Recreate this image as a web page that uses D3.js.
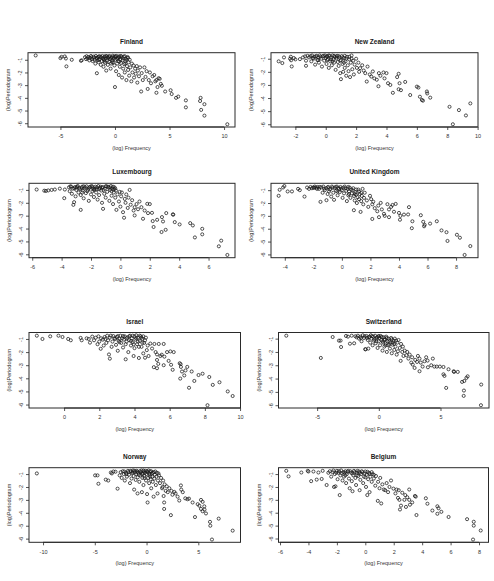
<!DOCTYPE html>
<html><head><meta charset="utf-8">
<script src="https://cdn.jsdelivr.net/npm/d3@7"></script>
<style>body{margin:0;background:#fff}svg{display:block}</style>
</head><body>
<svg id="c" width="494" height="581"></svg>
<script>
const countries = ["Finland","New Zealand","Luxembourg","United Kingdom","Israel","Switzerland","Norway","Belgium"];
const xLabel = "(log) Frequency";
const yLabel = "(log)Periodogram";

const finland = [[-7.27,-0.66],[-5.0,-0.87],[-4.9,-0.77],[-4.6,-0.74],[-4.5,-0.9],[-4.45,-1.52],[-3.96,-1.0],[-3.12,-1.08],[-3.05,-1.04],
[-2.75,-0.8],[-2.6,-0.72],[-2.5,-0.9],[-2.45,-0.78],[-2.3,-0.85],[-2.2,-0.7],[-2.1,-0.95],[-2.05,-1.1],[-1.95,-0.75],[-1.9,-0.82],[-1.8,-1.3],[-1.75,-0.7],[-1.7,-0.9],[-1.66,-2.06],[-1.6,-1.05],[-1.55,-0.78],[-1.5,-1.2],[-1.45,-0.72],[-1.4,-0.95],[-1.3,-1.4],[-1.25,-0.8],[-1.2,-1.1],[-1.15,-0.7],[-1.1,-0.88],[-1.05,-1.55],[-1.0,-1.0],[-0.95,-0.76],[-0.9,-1.25],[-0.85,-0.9],[-0.8,-1.85],[-0.75,-0.72],[-0.7,-1.05],[-0.65,-1.4],[-0.6,-0.85],[-0.55,-1.15],[-0.5,-0.7],[-0.45,-0.95],[-0.4,-1.7],[-0.35,-1.3],[-0.3,-0.8],[-0.25,-1.05],[-0.2,-0.68],[-0.15,-1.2],[-0.1,-0.9],[-0.05,-1.45],[0.0,-0.75],[0.0,-3.15],[0.05,-1.0],[0.1,-1.9],[0.15,-0.7],[0.2,-1.3],[0.25,-0.85],[0.3,-1.1],[0.35,-2.2],[0.4,-0.72],[0.45,-1.55],[0.5,-0.95],[0.55,-1.25],[0.6,-0.8],[0.65,-2.4],[0.7,-1.05],[0.75,-1.7],[0.8,-0.75],[0.85,-1.35],[0.9,-2.0],[0.95,-1.1],[1.0,-0.9],[1.05,-2.6],[1.1,-1.5],[1.15,-0.78],[1.2,-1.8],[1.25,-1.2],[1.3,-2.25],[1.35,-1.0],[1.4,-1.6],[1.5,-2.7],[1.55,-1.3],[1.6,-2.0],[1.7,-1.45],[1.75,-2.4],[1.85,-1.7],[1.9,-2.1],[2.0,-1.5],[2.05,-2.8],[2.1,-1.85],[2.2,-2.3],[2.3,-1.6],[2.4,-3.5],[2.45,-2.05],[2.55,-2.6],
[-2.65,-0.95],[-2.35,-1.05],[-2.15,-0.8],[-1.85,-1.0],[-1.65,-0.85],[-1.35,-0.75],[-1.05,-0.95],[-0.85,-0.7],[-0.7,-0.82],[-0.55,-0.75],[-0.35,-0.9],[-0.15,-0.8],[0.05,-0.72],[0.2,-0.95],[0.35,-0.8],[0.55,-0.7],[0.7,-0.88],[0.9,-0.72],[1.05,-1.0],[1.2,-0.85],[-1.5,-1.0],[-0.95,-1.15],[-0.25,-1.2],[0.4,-1.15],[0.95,-1.3],
[2.7,-1.6],[2.8,-2.35],[2.9,-1.9],[3.0,-3.3],[3.1,-2.6],[3.2,-2.0],[3.3,-2.85],[3.45,-2.3],[3.6,-2.2],[3.7,-2.7],[3.8,-2.6],[3.8,-3.6],[3.9,-3.15],[4.0,-2.45],[4.1,-2.5],[4.2,-2.9],[4.3,-3.05],[4.6,-3.5],[5.1,-3.4],[5.2,-3.7],[5.6,-4.0],[5.8,-3.9],[6.5,-4.2],[6.5,-4.75],[7.8,-4.25],[7.85,-4.0],[7.9,-4.95],[8.2,-4.5],[8.2,-5.4],[10.3,-6.08]];

const newZealand = [[-3.1,-1.2],[-2.86,-1.33],[-2.75,-0.9],[-2.35,-1.0],[-2.3,-0.85],[-2.28,-1.12],[-2.24,-1.59],[-2.1,-0.95],[-2.0,-1.05],[-1.7,-1.03],[-1.5,-0.9],[-1.36,-0.82],[-1.3,-1.15],[-1.3,-1.54],[-1.2,-0.78],
[-1.1,-0.9],[-1.0,-0.8],[-0.95,-1.2],[-0.9,-0.75],[-0.8,-1.0],[-0.75,-0.85],[-0.7,-1.45],[-0.6,-0.78],[-0.55,-1.1],[-0.5,-0.9],[-0.45,-1.3],[-0.4,-0.75],[-0.3,-1.0],[-0.25,-1.6],[-0.2,-0.82],[-0.1,-1.15],[-0.05,-0.75],[0.0,-0.95],[0.05,-1.4],[0.1,-0.8],[0.15,-1.05],[0.2,-1.7],[0.25,-0.78],[0.3,-1.2],[0.35,-0.9],[0.4,-1.5],[0.45,-0.75],[0.5,-1.05],[0.55,-1.3],[0.6,-0.85],[0.65,-1.85],[0.7,-1.0],[0.75,-0.78],[0.8,-1.25],[0.85,-1.55],[0.9,-0.9],[0.95,-2.1],[1.0,-1.1],[1.0,-2.56],[1.05,-0.8],[1.1,-1.4],[1.15,-2.0],[1.2,-0.95],[1.25,-1.7],[1.3,-1.2],[1.35,-2.3],[1.4,-0.85],[1.45,-1.5],[1.5,-1.95],[1.55,-1.05],[1.6,-2.4],[1.65,-1.3],[1.7,-0.75],[1.75,-1.8],[1.8,-1.15],[1.85,-2.2],[1.9,-1.45],[2.0,-1.0],[2.05,-1.7],[2.15,-1.3],[2.2,-2.0],
[-0.85,-0.95],[-0.65,-0.82],[-0.35,-0.85],[-0.15,-0.78],[0.05,-0.85],[0.2,-0.75],[0.35,-1.05],[0.55,-0.78],[0.7,-0.9],[0.85,-0.8],[1.1,-0.9],[1.25,-0.78],[1.35,-1.0],[1.55,-0.85],[1.7,-1.0],[0.45,-1.2],[0.95,-1.15],[1.2,-1.3],[-0.5,-1.1],[0.1,-1.1],
[2.26,-1.72],[2.4,-1.5],[2.5,-1.9],[2.6,-2.1],[2.7,-2.74],[2.75,-1.6],[2.9,-2.2],[3.0,-2.36],[3.1,-1.97],[3.2,-2.5],[3.36,-2.6],[3.47,-3.1],[3.5,-2.1],[3.6,-2.3],[3.8,-2.05],[3.87,-2.5],[4.0,-2.1],[4.1,-2.87],[4.25,-3.0],[4.42,-3.6],[4.7,-2.4],[4.8,-2.15],[4.8,-3.33],[4.86,-2.87],[4.95,-3.4],[5.23,-2.77],[5.56,-3.77],[6.0,-3.13],[6.1,-3.2],[6.2,-3.9],[6.33,-4.15],[6.4,-4.2],[6.66,-3.5],[6.68,-3.65],[6.88,-3.97],[8.15,-4.67],[8.37,-6.0],[8.77,-4.92],[9.23,-5.33],[9.52,-4.41]];

const luxembourg = [[-5.7,-0.97],[-5.18,-1.06],[-5.07,-1.08],[-4.91,-1.04],[-4.68,-1.0],[-4.46,-0.97],[-4.12,-0.9],[-3.82,-1.64],[-3.78,-0.97],
[-3.5,-0.8],[-3.45,-1.1],[-3.4,-0.72],[-3.3,-1.3],[-3.25,-0.9],[-3.2,-2.16],[-3.15,-1.95],[-3.1,-0.78],[-3.05,-1.5],[-3.0,-1.0],[-2.9,-0.7],[-2.85,-1.2],[-2.8,-0.85],[-2.7,-2.55],[-2.7,-1.4],[-2.6,-0.75],[-2.55,-1.05],[-2.5,-1.65],[-2.45,-0.9],[-2.35,-1.25],[-2.3,-0.72],[-2.2,-1.0],[-2.15,-1.85],[-2.1,-0.8],[-2.0,-1.35],[-1.95,-0.7],[-1.9,-1.1],[-1.85,-0.9],[-1.8,-1.55],[-1.7,-0.75],[-1.65,-1.2],[-1.6,-0.95],[-1.55,-1.75],[-1.5,-0.7],[-1.45,-1.4],[-1.4,-0.85],[-1.3,-1.05],[-1.25,-2.0],[-1.2,-0.78],[-1.18,-2.47],[-1.1,-1.3],[-1.05,-0.9],[-1.0,-1.6],[-0.95,-0.72],[-0.9,-1.15],[-0.8,-0.82],[-0.75,-1.85],[-0.7,-1.0],[-0.65,-0.7],[-0.6,-1.45],[-0.55,-0.9],[-0.5,-2.1],[-0.45,-1.2],[-0.4,-0.8],[-0.35,-1.6],[-0.3,-1.05],[-0.27,-2.55],[-0.2,-1.35],[-0.1,-1.9],[-0.05,-1.15],[0.0,-2.3],[0.05,-1.5],[0.1,-1.2],[0.18,-2.73],[0.25,-3.16],[0.3,-1.7],[0.35,-2.0],[0.4,-1.35],[0.5,-2.4],[0.55,-1.6],[0.63,-1.0],[0.7,-2.15],[0.8,-1.8],[0.9,-2.6],
[-3.35,-0.75],[-3.0,-0.82],[-2.75,-0.95],[-2.4,-0.8],[-2.25,-1.1],[-1.9,-0.78],[-1.75,-0.92],[-1.35,-0.75],[-1.15,-1.0],[-0.85,-0.75],[-0.6,-1.1],[-0.35,-0.9],
[-3.15,-0.88],[-2.95,-0.75],[-2.65,-0.85],[-2.5,-0.72],[-2.15,-0.88],[-2.05,-0.75],[-1.6,-0.8],[-1.45,-0.95],[-1.25,-0.82],[-1.0,-0.72],[-0.7,-0.82],[-0.5,-0.75],[-0.45,-0.95],[-1.8,-1.0],[-2.6,-1.2],
[0.97,-2.34],[0.97,-2.98],[1.1,-2.1],[1.2,-2.5],[1.3,-1.9],[1.43,-2.34],[1.54,-3.24],[1.65,-2.6],[1.83,-2.08],[1.88,-2.8],[2.0,-2.1],[2.15,-2.78],[2.2,-3.42],[2.26,-3.88],[2.5,-3.32],[2.83,-3.11],[2.8,-4.27],[2.9,-3.45],[3.12,-2.8],[3.08,-4.1],[3.57,-2.9],[3.6,-2.92],[3.7,-3.5],[4.03,-3.68],[4.75,-3.58],[4.93,-3.76],[5.07,-4.69],[5.57,-4.02],[5.57,-4.45],[6.7,-5.38],[6.86,-4.94],[7.28,-6.05]];

const unitedKingdom = [[-4.43,-1.44],[-4.36,-0.97],[-4.12,-0.79],[-4.03,-0.68],[-3.8,-1.1],[-3.5,-1.1],[-3.07,-0.9],[-2.95,-1.0],[-2.62,-1.5],[-2.44,-0.79],[-2.3,-0.9],
[-2.2,-0.75],[-2.1,-0.85],[-2.0,-0.78],[-1.9,-0.72],[-1.8,-0.8],[-1.7,-0.75],[-1.6,-0.9],[-1.5,-1.91],[-1.45,-0.78],[-1.35,-1.2],[-1.3,-0.72],[-1.2,-1.0],[-1.1,-0.85],[-1.08,-1.78],[-1.0,-1.3],[-0.95,-0.75],[-0.9,-1.1],[-0.8,-0.9],[-0.75,-1.5],[-0.7,-0.72],[-0.6,-1.2],[-0.55,-1.75],[-0.5,-0.85],[-0.4,-1.05],[-0.35,-0.72],[-0.3,-1.4],[-0.2,-0.9],[-0.15,-1.15],[-0.1,-0.75],[0.0,-1.0],[0.05,-1.6],[0.1,-0.8],[0.15,-1.25],[0.2,-0.72],[0.3,-1.05],[0.35,-1.85],[0.4,-0.9],[0.45,-1.4],[0.5,-1.1],[0.55,-0.8],[0.6,-1.6],[0.7,-1.25],[0.75,-1.0],[0.84,-2.56],[0.85,-1.45],[0.9,-1.8],[0.95,-1.15],[1.0,-1.35],[1.05,-2.0],[1.1,-1.55],[1.15,-0.95],[1.2,-1.7],[1.25,-1.3],[1.31,-2.69],[1.35,-1.85],[1.4,-1.45],[1.45,-0.9],[1.5,-2.1],[1.55,-1.6],[1.6,-1.2],
[-1.95,-0.82],[-1.75,-0.9],[-1.55,-0.75],[-1.25,-0.88],[-1.0,-0.78],[-0.85,-0.95],[-0.65,-0.8],[-0.45,-0.75],[-0.25,-0.82],[-0.05,-0.88],[0.25,-0.85],[0.45,-0.75],[0.65,-0.95],[0.8,-0.85],[1.0,-0.95],[1.2,-1.1],[1.35,-1.2],[0.9,-1.3],[0.5,-1.3],[-0.3,-1.1],
[1.75,-1.8],[1.85,-2.3],[1.97,-1.44],[2.05,-1.7],[2.13,-2.1],[2.13,-3.24],[2.2,-1.9],[2.3,-2.4],[2.48,-2.64],[2.55,-2.2],[2.6,-3.1],[2.72,-1.99],[2.8,-2.5],[2.95,-2.84],[3.0,-3.0],[3.19,-2.09],[3.3,-3.1],[3.3,-2.5],[3.45,-2.3],[3.55,-2.15],[3.65,-2.68],[3.77,-2.07],[4.0,-2.77],[4.07,-3.3],[4.1,-3.0],[4.35,-2.9],[4.64,-2.89],[4.7,-2.32],[4.9,-3.96],[4.94,-3.42],[5.53,-2.95],[5.7,-3.46],[5.76,-3.81],[5.8,-3.7],[6.18,-3.6],[6.65,-3.42],[6.98,-4.13],[7.33,-4.27],[7.4,-4.95],[8.06,-4.47],[8.27,-4.7],[8.6,-6.04],[9.0,-5.35]];

const israel = [[-1.55,-0.75],[-1.23,-1.0],[-0.79,-0.8],[-0.32,-0.75],[-0.09,-0.85],[0.23,-1.0],[0.38,-1.1],[0.94,-0.92],[1.0,-1.1],[1.28,-0.95],[1.4,-1.0],[1.47,-1.28],[1.6,-0.82],
[1.7,-1.1],[1.8,-0.9],[1.9,-1.4],[1.95,-0.8],[2.0,-1.2],[2.08,-1.75],[2.1,-0.95],[2.2,-1.05],[2.25,-1.5],[2.3,-0.85],[2.4,-1.3],[2.45,-0.75],[2.5,-1.1],[2.55,-2.18],[2.6,-2.5],[2.6,-0.9],[2.7,-1.6],[2.75,-1.2],[2.8,-0.78],[2.9,-1.0],[2.95,-1.45],[3.0,-0.85],[3.05,-1.9],[3.1,-1.15],[3.2,-0.75],[3.25,-1.3],[3.3,-0.95],[3.35,-1.65],[3.4,-1.05],[3.45,-0.8],[3.5,-2.55],[3.5,-1.4],[3.55,-1.2],[3.6,-0.88],[3.65,-2.0],[3.7,-1.1],[3.75,-0.75],[3.8,-1.5],[3.85,-0.95],[3.9,-1.25],[3.95,-2.3],[4.0,-0.8],[4.0,-1.7],[4.05,-1.05],[4.1,-0.72],[4.15,-1.4],[4.2,-0.9],[4.25,-2.45],[4.3,-1.15],[4.35,-0.8],[4.4,-1.6],[4.45,-1.0],[4.5,-2.1],[4.55,-1.3],[4.6,-2.43],[4.65,-0.9],[4.7,-1.85],[4.75,-1.5],[4.8,-2.3],
[2.65,-0.75],[2.85,-0.95],[3.05,-0.78],[3.15,-1.0],[3.35,-0.78],[3.55,-0.95],[3.7,-0.8],[3.8,-1.15],[3.9,-0.75],[4.1,-0.95],[4.2,-1.2],[4.3,-0.75],[4.4,-0.9],[4.5,-0.8],[4.6,-1.1],[3.95,-1.4],[4.25,-1.6],[3.15,-1.25],[2.35,-1.0],[4.45,-1.3],
[4.9,-1.35],[5.0,-1.73],[5.1,-3.15],[5.13,-1.38],[5.2,-2.0],[5.28,-2.18],[5.28,-2.6],[5.28,-3.23],[5.35,-2.9],[5.38,-1.38],[5.47,-2.3],[5.55,-2.2],[5.66,-1.38],[5.66,-3.0],[5.7,-2.35],[5.85,-2.0],[5.94,-2.67],[6.04,-1.95],[6.08,-2.97],[6.17,-3.35],[6.23,-2.0],[6.57,-2.85],[6.6,-4.02],[6.62,-2.92],[6.64,-3.13],[6.7,-3.48],[6.83,-3.78],[6.9,-3.4],[7.0,-3.13],[7.1,-4.72],[7.25,-3.48],[7.4,-4.2],[7.64,-3.75],[7.87,-3.65],[8.15,-6.05],[8.25,-3.9],[8.45,-4.5],[8.83,-4.3],[9.3,-5.0],[9.58,-5.35]];

const switzerland = [[-7.5,-0.78],[-4.7,-2.45],[-3.74,-0.88],[-3.23,-1.15],[-3.1,-1.15],[-3.06,-1.63],[-2.66,-0.8],[-2.5,-0.85],[-2.34,-1.38],[-2.2,-0.78],[-2.0,-1.35],[-1.9,-0.82],
[-1.8,-0.9],[-1.7,-0.78],[-1.6,-1.0],[-1.5,-0.85],[-1.4,-1.2],[-1.3,-0.75],[-1.2,-0.95],[-1.1,-1.8],[-1.07,-1.8],[-1.0,-0.8],[-0.9,-1.1],[-0.85,-1.75],[-0.8,-0.9],[-0.7,-1.3],[-0.65,-0.75],[-0.6,-1.0],[-0.5,-1.5],[-0.45,-0.85],[-0.4,-1.15],[-0.3,-0.78],[-0.25,-1.35],[-0.2,-1.0],[-0.1,-1.7],[-0.05,-0.85],[0.0,-1.2],[0.05,-0.95],[0.1,-1.5],[0.15,-0.8],[0.2,-1.1],[0.3,-1.9],[0.35,-1.3],[0.4,-0.9],[0.45,-1.6],[0.5,-1.05],[0.55,-1.35],[0.6,-0.85],[0.65,-2.0],[0.7,-1.2],[0.75,-1.5],[0.8,-1.0],[0.9,-1.75],[0.95,-1.3],[1.0,-0.95],[1.05,-2.1],[1.1,-1.45],[1.2,-1.15],[1.25,-1.85],[1.3,-1.0],[1.35,-1.6],[1.45,-2.2],[1.5,-1.3],[1.55,-1.95],[1.6,-1.1],[1.7,-1.7],[1.77,-2.67],[1.8,-1.4],[1.9,-2.0],[1.95,-1.6],[2.0,-2.3],
[-1.45,-0.95],[-1.15,-0.82],[-0.95,-0.95],[-0.75,-0.85],[-0.55,-0.82],[-0.35,-1.05],[-0.15,-0.9],[0.0,-0.8],[0.25,-0.88],[0.45,-1.1],[0.65,-0.95],[0.85,-1.2],[1.05,-1.05],[1.15,-1.3],[1.4,-1.15],[0.3,-1.2],[-0.2,-1.2],[0.55,-1.5],[0.85,-1.45],[1.25,-1.4],
[2.1,-1.9],[2.23,-2.25],[2.3,-2.0],[2.4,-2.5],[2.5,-2.2],[2.63,-2.8],[2.7,-2.4],[2.75,-2.95],[2.9,-3.2],[2.95,-2.6],[3.1,-2.75],[3.17,-2.3],[3.3,-2.5],[3.3,-3.45],[3.4,-2.8],[3.55,-3.1],[3.7,-2.7],[3.84,-2.4],[3.95,-2.65],[3.98,-3.15],[4.25,-3.0],[4.38,-2.5],[4.5,-3.1],[4.7,-3.1],[4.95,-3.1],[5.24,-3.13],[5.24,-3.68],[5.32,-3.8],[5.46,-4.7],[5.65,-3.3],[6.07,-3.45],[6.1,-3.5],[6.4,-3.5],[6.75,-4.25],[6.88,-5.3],[6.9,-4.9],[6.93,-4.18],[7.1,-3.95],[7.2,-3.83],[8.3,-4.45],[8.28,-6.0]];

const norway = [[-10.6,-0.95],[-4.97,-1.1],[-4.74,-1.1],[-4.65,-1.75],[-3.94,-1.43],[-3.7,-1.5],[-3.45,-0.88],[-3.35,-0.95],[-3.2,-0.8],[-3.0,-0.82],[-2.8,-2.13],[-2.6,-1.1],
[-2.5,-0.85],[-2.4,-1.3],[-2.3,-0.78],[-2.2,-1.0],[-2.1,-1.5],[-2.0,-0.9],[-1.9,-1.2],[-1.8,-0.75],[-1.7,-1.05],[-1.6,-1.7],[-1.5,-0.8],[-1.45,-1.35],[-1.4,-0.95],[-1.3,-0.72],[-1.25,-1.15],[-1.2,-2.2],[-1.1,-0.85],[-1.05,-1.45],[-1.0,-1.0],[-0.95,-0.75],[-0.87,-2.5],[-0.85,-1.25],[-0.8,-0.9],[-0.7,-1.6],[-0.65,-0.78],[-0.6,-1.1],[-0.5,-0.72],[-0.45,-2.4],[-0.4,-1.3],[-0.35,-0.95],[-0.3,-1.85],[-0.25,-0.8],[-0.2,-1.15],[-0.1,-0.75],[-0.05,-1.5],[0.0,-1.0],[0.05,-2.55],[0.1,-3.2],[0.1,-0.85],[0.15,-1.3],[0.2,-0.72],[0.25,-1.7],[0.3,-1.05],[0.35,-0.8],[0.4,-1.4],[0.45,-2.1],[0.5,-0.95],[0.55,-1.2],[0.6,-1.6],[0.68,-2.75],[0.7,-0.85],[0.75,-1.35],[0.8,-1.05],[0.9,-1.85],[0.95,-1.2],[1.0,-0.9],[1.06,-2.5],[1.1,-1.5],[1.2,-1.1],[1.3,-1.7],[1.4,-1.3],[1.5,-2.1],[1.55,-2.0],[1.6,-1.5],[1.65,-2.7],[1.7,-3.2],[1.7,-3.7],[1.75,-1.8],[1.85,-2.3],[1.95,-1.95],[2.05,-2.4],
[-2.15,-0.8],[-1.95,-1.0],[-1.75,-0.85],[-1.55,-0.75],[-1.35,-0.85],[-1.15,-0.75],[-0.9,-0.82],[-0.75,-1.05],[-0.55,-0.85],[-0.45,-1.0],[-0.3,-0.72],[-0.15,-0.9],[0.05,-0.78],[0.25,-0.95],[0.45,-0.78],[0.6,-0.9],[0.85,-0.8],[1.15,-0.95],[0.35,-1.2],[-0.2,-1.3],
[2.2,-2.1],[2.35,-4.18],[2.4,-2.3],[2.5,-2.6],[2.68,-2.38],[2.8,-2.5],[3.0,-2.75],[3.16,-3.05],[3.32,-1.88],[3.35,-2.2],[3.5,-2.4],[3.74,-2.88],[3.95,-2.95],[4.1,-2.9],[4.45,-3.2],[4.68,-4.33],[4.94,-3.33],[5.1,-3.45],[5.26,-3.0],[5.26,-3.7],[5.42,-3.15],[5.42,-3.88],[5.58,-3.5],[5.6,-3.75],[5.74,-4.05],[6.13,-4.7],[6.16,-5.0],[6.32,-6.07],[6.97,-4.45],[8.32,-5.38]];

const belgium = [[-5.56,-0.75],[-5.4,-1.18],[-4.5,-0.88],[-4.05,-0.75],[-4.0,-0.8],[-3.81,-1.55],[-3.65,-0.8],[-3.42,-1.43],[-3.3,-0.88],[-3.07,-1.38],[-3.0,-0.75],[-2.72,-1.85],[-2.6,-0.9],
[-2.5,-0.78],[-2.4,-1.2],[-2.3,-0.85],[-2.2,-2.0],[-2.15,-1.0],[-2.1,-1.95],[-2.0,-0.75],[-1.95,-1.4],[-1.9,-0.9],[-1.8,-2.63],[-1.75,-1.1],[-1.7,-0.72],[-1.6,-1.5],[-1.55,-0.85],[-1.5,-1.2],[-1.4,-0.78],[-1.35,-1.7],[-1.3,-1.0],[-1.2,-0.75],[-1.15,-1.35],[-1.1,-2.1],[-1.0,-0.9],[-0.95,-1.55],[-0.9,-2.33],[-0.85,-1.1],[-0.8,-0.75],[-0.7,-1.3],[-0.65,-1.85],[-0.6,-0.9],[-0.5,-1.15],[-0.45,-0.8],[-0.4,-2.25],[-0.35,-1.45],[-0.3,-1.0],[-0.2,-0.85],[-0.15,-1.7],[-0.1,-1.2],[0.0,-0.8],[0.05,-2.0],[0.1,-1.05],[0.14,-2.63],[0.2,-1.4],[0.25,-0.9],[0.3,-2.4],[0.35,-1.2],[0.45,-1.6],[0.5,-1.0],[0.6,-1.35],[0.7,-1.9],[0.75,-1.15],[0.88,-3.08],[0.9,-1.6],[1.0,-2.1],[1.05,-1.3],[1.12,-3.28],[1.2,-1.8],[1.3,-2.2],[1.4,-2.25],[1.5,-1.7],[1.6,-2.4],[1.7,-2.0],[1.81,-1.5],
[-2.25,-0.72],[-2.05,-0.9],[-1.85,-0.78],[-1.65,-0.95],[-1.45,-0.88],[-1.25,-0.82],[-1.05,-0.78],[-0.9,-0.95],[-0.75,-0.85],[-0.55,-0.75],[-0.4,-0.92],[-0.25,-0.78],[-0.05,-0.95],[0.15,-0.82],[0.3,-1.0],[0.45,-0.85],[0.6,-1.05],[-0.6,-1.1],[0.0,-1.25],[-1.4,-1.1],
[1.98,-2.13],[2.12,-2.5],[2.2,-2.2],[2.3,-2.85],[2.35,-2.25],[2.4,-3.0],[2.44,-3.75],[2.51,-3.45],[2.6,-2.45],[2.81,-2.63],[2.75,-3.0],[2.86,-3.55],[2.95,-2.8],[3.09,-3.0],[3.09,-2.2],[3.14,-3.38],[3.3,-3.2],[3.49,-2.7],[3.55,-2.75],[3.6,-4.18],[4.26,-2.88],[4.37,-3.3],[4.72,-3.83],[5.07,-3.5],[5.15,-3.65],[5.07,-4.08],[5.35,-3.93],[5.86,-4.33],[7.16,-4.5],[7.63,-4.7],[7.63,-5.0],[7.58,-6.08],[8.12,-5.38]];

const series = [finland, newZealand, luxembourg, unitedKingdom, israel, switzerland, norway, belgium];
const xTickCounts = [4, 6, 6, 6, 6, 4, 4, 6];

// layout (plot-region boxes: left, top, right, bottom)
const boxes = [
  [28, 52.7, 235, 127], [271, 52.7, 478, 127],
  [29, 183.3, 235, 257.7], [271, 183.3, 478, 257.7],
  [29, 332.5, 240.5, 408], [278.5, 332.5, 489, 408],
  [29, 467.7, 240.5, 542.3], [278.5, 467.7, 488.5, 542.3]
];

const svg = d3.select("#c");
svg.append("rect").attr("width", 494).attr("height", 581).attr("fill", "#fff");
const FONT = "Liberation Sans, Arial, Helvetica, sans-serif";
const ink = "#1a1a1a";

function ext(vals) {
  const [a, b] = d3.extent(vals);
  const r = b - a;
  return [a - 0.04 * r, b + 0.04 * r];
}

series.forEach((data, i) => {
  const [L, T, R, B] = boxes[i];
  const x = d3.scaleLinear().domain(ext(data.map(d => d[0]))).range([L, R]);
  const y = d3.scaleLinear().domain(ext(data.map(d => d[1]))).range([B, T]);
  const g = svg.append("g");

  // points
  g.append("g").selectAll("circle").data(data).join("circle")
    .attr("cx", d => x(d[0])).attr("cy", d => y(d[1])).attr("r", 1.55)
    .attr("fill", "none").attr("stroke", ink).attr("stroke-width", 0.75);

  // box
  g.append("rect").attr("x", L).attr("y", T).attr("width", R - L).attr("height", B - T)
    .attr("fill", "none").attr("stroke", "#2a2a2a").attr("stroke-width", 1);

  // x axis
  const xt = x.ticks(xTickCounts[i]);
  const xa = g.append("g").attr("transform", `translate(0,${B})`)
    .call(d3.axisBottom(x).tickValues(xt).tickSize(3).tickPadding(4.5).tickFormat(d => String(d)));
  xa.select(".domain").remove();
  xa.append("line").attr("x1", x(xt[0])).attr("x2", x(xt[xt.length - 1]))
    .attr("stroke", "#2a2a2a").attr("stroke-width", 1);
  xa.selectAll(".tick line").attr("stroke", "#2a2a2a").attr("stroke-width", 0.8);
  xa.selectAll("text").attr("font-size", 5.5).attr("font-family", FONT).attr("fill", "#333");

  // y axis
  const yt = y.ticks(6);
  const ya = g.append("g").attr("transform", `translate(${L},0)`)
    .call(d3.axisLeft(y).tickValues(yt).tickSize(3).tickFormat(d => String(d)));
  ya.select(".domain").remove();
  ya.selectAll(".tick line").attr("stroke", "#2a2a2a").attr("stroke-width", 0.8);
  ya.selectAll("text")
    .attr("x", 0).attr("y", -6).attr("dy", 0)
    .attr("transform", "rotate(-90)")
    .attr("text-anchor", "middle")
    .attr("font-size", 5.5).attr("font-family", FONT).attr("fill", "#333");

  // title
  g.append("text").attr("x", (L + R) / 2).attr("y", T - 9)
    .attr("text-anchor", "middle").attr("font-family", FONT)
    .attr("font-weight", "bold").attr("font-size", 6.5).attr("fill", ink)
    .text(countries[i]);

  // x label
  g.append("text").attr("x", (L + R) / 2).attr("y", B + 23)
    .attr("text-anchor", "middle").attr("font-family", FONT)
    .attr("font-size", 5.5).attr("fill", "#333").text(xLabel);

  // y label
  g.append("text").attr("transform", `translate(${L - 18},${(T + B) / 2}) rotate(-90)`)
    .attr("text-anchor", "middle").attr("font-family", FONT)
    .attr("font-size", 5.5).attr("fill", "#333").text(yLabel);
});
</script>
</body></html>
